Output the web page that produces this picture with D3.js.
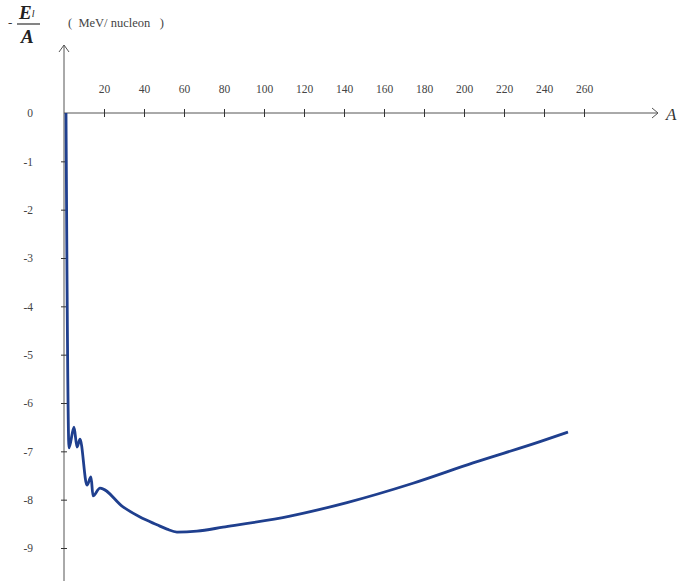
<!DOCTYPE html>
<html>
<head>
<meta charset="utf-8">
<script src="https://d3js.org/d3.v7.min.js"></script>
<style>
body{margin:0;background:#fff;}
svg{display:block;}
.tk text{font-family:"Liberation Serif","DejaVu Serif",serif;font-size:11.5px;fill:#444;}
</style>
</head>
<body>
<div id="chart"></div>
<script>
// values
let massNumber   =[1,2.5,5,6.5,8,11.5,13.5,14.5,18,29.5,38,46.5,51.5,56.5,66.5,79.5,113,141.5,174.5,204.5,238,252];
let bindingEnergy=[0,-6.93,-6.5,-6.91,-6.75,-7.7,-7.53,-7.92,-7.76,-8.15,-8.36,-8.52,-8.61,-8.67,-8.65,-8.57,-8.34,-8.06,-7.66,-7.24,-6.8,-6.6];
let xTicks=[20,40,60,80,100,120,140,160,180,200,220,240,260];
let yTicks=[0,-1,-2,-3,-4,-5,-6,-7,-8,-9];

let width=683, height=581;

let svg=d3.select("#chart").append("svg").attr("width",width).attr("height",height);
svg.append("rect").attr("width",width).attr("height",height).attr("fill","#fff");

let x=d3.scaleLinear().domain([0,260]).range([64,584]);
let y=d3.scaleLinear().domain([0,-9]).range([113,548]);

let axisColor="#555";

// x axis line + arrow
svg.append("line").attr("x1",x(0)).attr("x2",658).attr("y1",y(0)).attr("y2",y(0))
	.attr("stroke",axisColor).attr("stroke-width",1);
svg.append("path").attr("d","M652,108 L658,113 L652,118").attr("fill","none").attr("stroke",axisColor).attr("stroke-width",1);

// y axis line + arrow
svg.append("line").attr("x1",x(0)).attr("x2",x(0)).attr("y1",45).attr("y2",height)
	.attr("stroke",axisColor).attr("stroke-width",1);
svg.append("path").attr("d","M"+(x(0)-5)+",52 L"+x(0)+",45 L"+(x(0)+5)+",52").attr("fill","none").attr("stroke",axisColor).attr("stroke-width",1);

// x ticks
let xAxis=svg.append("g").attr("class","tk").attr("transform","translate(0,"+y(0)+")")
	.call(d3.axisTop(x).tickValues(xTicks).tickSize(0).tickPadding(20));
xAxis.select(".domain").remove();
xAxis.selectAll(".tick line").attr("y1",-4).attr("y2",4).attr("stroke","#333");

// y ticks
let yAxis=svg.append("g").attr("class","tk").attr("transform","translate("+x(0)+",0)")
	.call(d3.axisLeft(y).tickValues(yTicks).tickSize(0).tickPadding(31).tickFormat(d=>d));
yAxis.select(".domain").remove();
yAxis.selectAll(".tick line").filter(d=>d!=0).attr("x1",-3).attr("x2",3).attr("stroke","#333");

// curve
let line=d3.line().x((d,i)=>x(massNumber[i])).y(d=>y(d)).curve(d3.curveMonotoneX);
svg.append("path").datum(bindingEnergy).attr("d",line)
	.attr("fill","none").attr("stroke","#1f3f8e").attr("stroke-width",2.8).attr("stroke-linejoin","round");

// axis labels
let serif='"Liberation Serif","DejaVu Serif",serif';
svg.append("text").attr("x",8).attr("y",27).text("-").style("font-family",serif).style("font-size","13px").attr("fill","#333");
svg.append("text").attr("x",19).attr("y",19).style("font-family",serif).style("font-size","19px")
	.style("font-style","italic").style("font-weight","bold").attr("fill","#222")
	.text("E").append("tspan").attr("dy",-2).style("font-size","10px").style("font-weight","normal").text("l");
svg.append("line").attr("x1",17).attr("x2",40).attr("y1",24).attr("y2",24).attr("stroke","#333").attr("stroke-width",1.2);
svg.append("text").attr("x",21).attr("y",43).style("font-family",serif).style("font-size","19px")
	.style("font-style","italic").style("font-weight","bold").attr("fill","#222").text("A");
svg.append("text").attr("x",68).attr("y",27).style("font-family",serif).style("font-size","12.5px")
	.attr("fill","#444").attr("xml:space","preserve").text("(  MeV/ nucleon   )");
svg.append("text").attr("x",666).attr("y",120).style("font-family",serif).style("font-size","17px")
	.style("font-style","italic").attr("fill","#333").text("A");
</script>
</body>
</html>
